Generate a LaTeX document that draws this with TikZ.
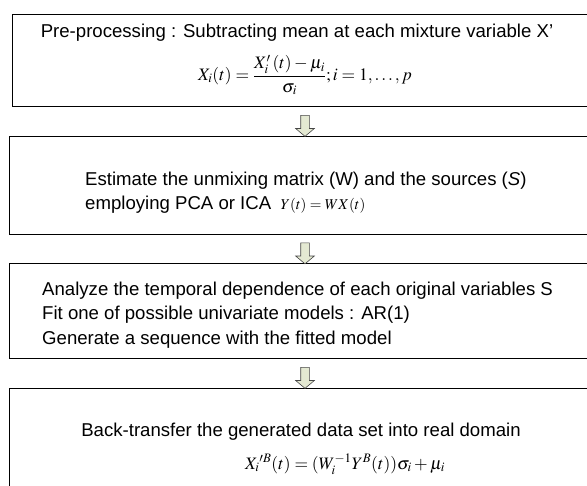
\documentclass[tikz,border=0pt]{standalone}
\usepackage{amsmath}
\usepackage{mathptmx}
\usepackage{fontspec}
\setmainfont{Liberation Sans}
\usetikzlibrary{shapes.arrows,calc}
\definecolor{arrowfill}{RGB}{228,233,210}
\definecolor{arrowline}{RGB}{70,70,70}
\begin{document}
\begin{tikzpicture}[x=1pt,y=1pt,
  stagebox/.style={draw=black,line width=1.1pt,fill=white,anchor=north west,inner sep=0pt,minimum width=640pt},
  txt/.style={inner sep=0pt,font=\fontsize{18.6}{22}\selectfont},
  mtxt/.style={inner sep=0pt,font=\fontsize{17.5}{20}\selectfont},
  ltxt/.style={txt,anchor=west,align=left},
  downarrow/.style={single arrow,draw=arrowline,fill=arrowfill,line width=0.6pt,
    inner sep=0pt,minimum width=18pt,single arrow head extend=5pt,single arrow tip angle=100,
    minimum height=21pt,rotate=-90,text height=8pt,text depth=0pt}
]
\clip (0,0) rectangle (587,-486);
\fill[white] (0,0) rectangle (587,-486);
% boxes
\node[stagebox,minimum height=92pt] (b1) at (12,-14) {};
\node[stagebox,minimum height=98pt] (b2) at (9,-136) {};
\node[stagebox,minimum height=95pt] (b3) at (9,-263) {};
\node[stagebox,minimum height=130pt] (b4) at (9,-388) {};
% texts
\node[txt] (t1) at (297,-33) {Pre-processing : Subtracting mean at each mixture variable X’};
\node[mtxt] (f1) at (305,-75) {$X_i(t)=\dfrac{X'_i\,(t)-\mu_i}{\sigma_i};i=1,\ldots,p$};
\node[ltxt] (t2a) at (85,-181) {Estimate the unmixing matrix (W) and the sources (\textit{S})};
\node[ltxt] (t2b) at (85,-205) {employing PCA or ICA\enspace\fontsize{15}{18}\selectfont$Y(t)=WX(t)$};
\node[ltxt] (t3a) at (42,-291) {Analyze the temporal dependence of each original variables S};
\node[ltxt] (t3b) at (42,-315) {Fit one of possible univariate models : AR(1)};
\node[ltxt] (t3c) at (42,-340) {Generate a sequence with the fitted model};
\node[txt] (t4) at (301,-432) {Back-transfer the generated data set into real domain};
\node[mtxt] (f4) at (345,-464) {$X_i{}'^{B}(t)=(W_i^{-1}Y^{B}(t))\sigma_i+\mu_i$};
% arrows between boxes
\coordinate (ax) at (305,0);
\coordinate (a1s) at (b1.south -| ax);
\coordinate (a1e) at (b2.north -| ax);
\coordinate (a2s) at (b2.south -| ax);
\coordinate (a2e) at (b3.north -| ax);
\coordinate (a3s) at (b3.south -| ax);
\coordinate (a3e) at (b4.north -| ax);
\node[downarrow] (ar1) at ($(a1s)!0.5!(a1e)+(0,-2.5)$) {};
\node[downarrow] (ar2) at ($(a2s)!0.5!(a2e)+(0,-2.5)$) {};
\node[downarrow] (ar3) at ($(a3s)!0.5!(a3e)+(0,-2.5)$) {};
\end{tikzpicture}
\end{document}
